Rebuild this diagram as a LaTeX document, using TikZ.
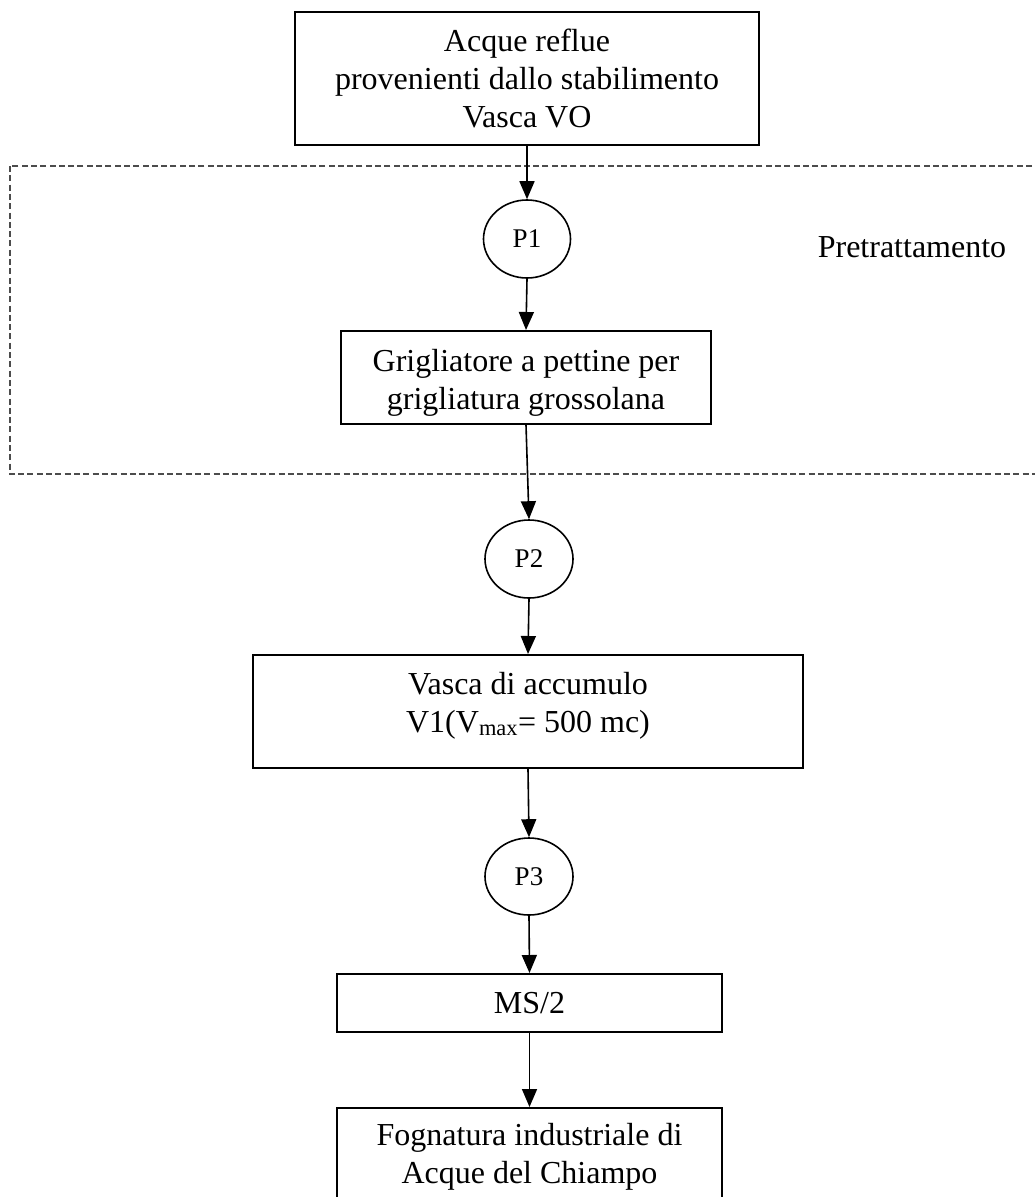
\documentclass[tikz,border=0pt]{standalone}
\usepackage{fontspec}
\setmainfont{Liberation Serif}
\usetikzlibrary{arrows.meta,shapes.geometric}
\begin{document}
\begin{tikzpicture}[x=1pt,y=-1pt,
  txt/.style={align=center,inner sep=0pt,font=\fontsize{32}{38}\selectfont},
  box/.style={draw=black,line width=2pt,rectangle,inner sep=0pt,align=center,
    font=\fontsize{32}{38}\selectfont},
  pump/.style={draw=black,line width=1.6pt,ellipse,inner sep=0pt,
    font=\fontsize{27}{32}\selectfont},
  flow/.style={line width=1.6pt,-{Triangle[length=18pt,width=15pt]}},
  region/.style={draw=black!70,line width=1.2pt,dash pattern=on 6pt off 3.3pt}]
\useasboundingbox (0,0) rectangle (1034,1197);
\fill[white] (0,0) rectangle (1034,1197);
\draw[region] (10,166) rectangle (1050,474);
\node[box,minimum width=464pt,minimum height=133pt] (top) at (527,78.5)
  {Acque reflue\\provenienti dallo stabilimento\\Vasca VO};
\node[pump,minimum width=87pt,minimum height=78pt] (p1) at (527,239) {P1};
\node[box,minimum width=370pt,minimum height=93pt,
  label={[txt,yshift=-5pt]center:Grigliatore a pettine per\\grigliatura grossolana}]
  (gri) at (526,377.5) {};
\node[font=\fontsize{32}{38}\selectfont] (pre) at (912,247) {Pretrattamento};
\node[pump,minimum width=88pt,minimum height=78pt] (p2) at (529,559) {P2};
\node[box,minimum width=550pt,minimum height=113pt,
  label={[txt,yshift=6pt]center:Vasca di accumulo\\V1(V\textsubscript{max}= 500 mc)}]
  (vas) at (528,711.5) {};
\node[pump,minimum width=88pt,minimum height=77pt] (p3) at (529,876.5) {P3};
\node[box,minimum width=385pt,minimum height=58pt] (ms) at (529.5,1003) {MS/2};
\node[box,minimum width=385pt,minimum height=98pt] (fog) at (529.5,1157)
  {Fognatura industriale di\\Acque del Chiampo};
\draw[flow] (top.south) -- (p1.north);
\draw[flow] (p1.south) -- (gri.north);
\draw[flow] (gri.south) -- (p2.north);
\draw[flow] (p2.south) -- (vas.north);
\draw[flow] (vas.south) -- (p3.north);
\draw[flow] (p3.south) -- (ms.north);
\draw[flow] (ms.south) -- (fog.north);
\end{tikzpicture}
\end{document}
